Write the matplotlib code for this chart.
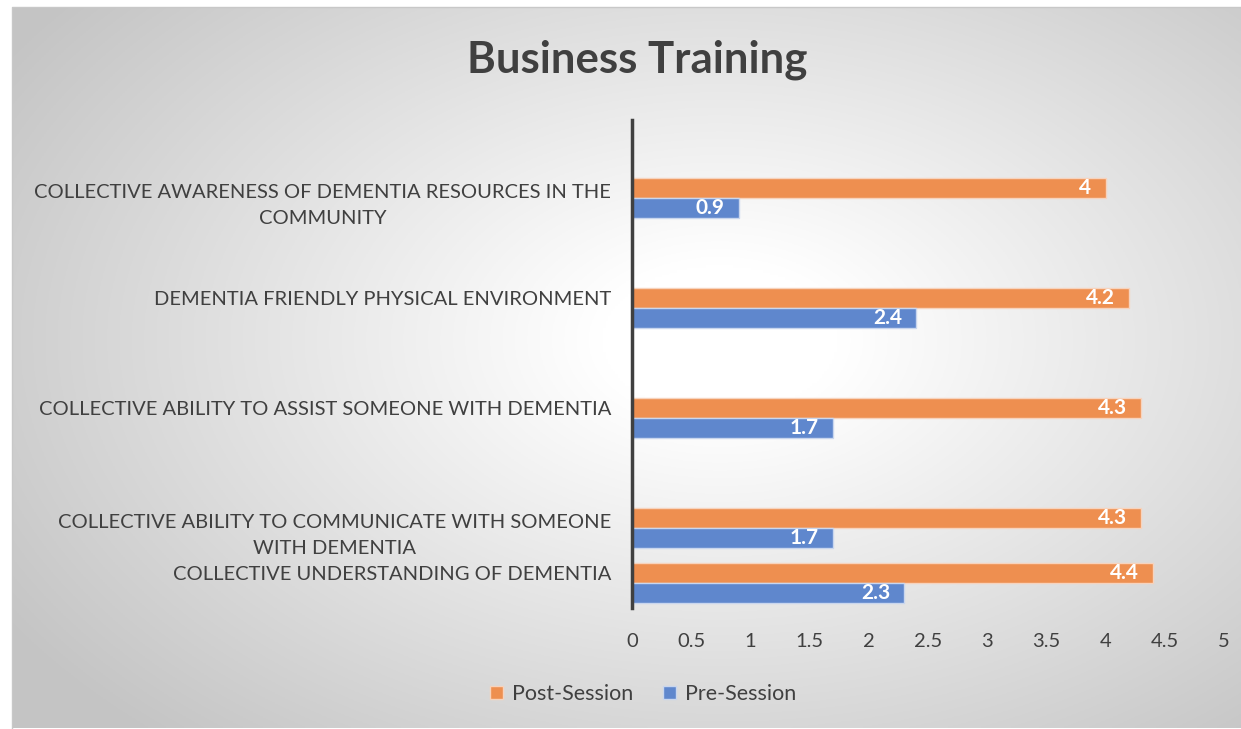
import matplotlib
matplotlib.use("Agg")
import matplotlib.pyplot as plt
import numpy as np

categories = [
    "COLLECTIVE UNDERSTANDING OF DEMENTIA",
    "COLLECTIVE ABILITY TO COMMUNICATE WITH SOMEONE\nWITH DEMENTIA",
    "COLLECTIVE ABILITY TO ASSIST SOMEONE WITH DEMENTIA",
    "DEMENTIA FRIENDLY PHYSICAL ENVIRONMENT",
    "COLLECTIVE AWARENESS OF DEMENTIA RESOURCES IN THE\nCOMMUNITY",
]
post_session = [4.4, 4.3, 4.3, 4.2, 4.0]
pre_session = [2.3, 1.7, 1.7, 2.4, 0.9]
xticks = [0, 0.5, 1, 1.5, 2, 2.5, 3, 3.5, 4, 4.5, 5]
xtick_labels = ["0", "0.5", "1", "1.5", "2", "2.5", "3", "3.5", "4", "4.5", "5"]

# category slot positions (bottom two are packed closer in the original)
slots = np.array([0.0, 0.5, 1.5, 2.5, 3.5])

plt.rcParams['font.family'] = ['Lato', 'DejaVu Sans']

W, H = 1241, 729
fig = plt.figure(figsize=(W / 100, H / 100), dpi=100)
fig.patch.set_facecolor("white")

# background radial gradient in chart frame
x0, x1, y0, y1 = 12, 1241, 7, 728
bg = fig.add_axes([x0 / W, 1 - y1 / H, (x1 - x0) / W, (y1 - y0) / H], zorder=0)
xx, yy = np.meshgrid(np.linspace(x0, x1, 500), np.linspace(y0, y1, 300))
cx, cy = 720, 340
r = np.sqrt(((xx - cx) / 660) ** 2 + ((yy - cy) / 420) ** 2)
t = np.clip((r - 0.18) / 1.1, 0, 1)
val = 1.0 - 0.23 * t
img = np.dstack([val, val, val])
bg.imshow(img, extent=[0, 1, 0, 1], aspect="auto", origin="upper")
bg.set_axis_off()
fig.add_artist(plt.Line2D([x0 / W, x0 / W, 1], [1 - y1 / H, 1 - y0 / H, 1 - y0 / H],
                          transform=fig.transFigure, color="#c8c8c8", lw=1, zorder=1))

ax = fig.add_axes([632 / W, 1 - 608 / H, (1224 - 632) / W, (608 - 120) / H], zorder=2)
ax.patch.set_alpha(0)

bh = 0.18
orange = "#EE8F50"
blue = "#5F87CD"
bars_post = ax.barh(slots + bh / 2, post_session, height=bh, color=orange, edgecolor="#f7d3bd", lw=1, label="Post-Session")
bars_pre = ax.barh(slots - bh / 2, pre_session, height=bh, color=blue, edgecolor="#c9d6ee", lw=1, label="Pre-Session")

for bars, vals in ((bars_post, post_session), (bars_pre, pre_session)):
    for b, v in zip(bars, vals):
        txt = f"{v:g}"
        ax.text(b.get_width() - 0.12, b.get_y() + b.get_height() / 2, txt,
                ha="right", va="center", color="white", fontweight="bold", fontsize=15)

ax.set_xlim(0, 5)
ax.set_ylim(-0.227, 4.21)
ax.set_xticks(xticks)
ax.set_xticklabels(xtick_labels, fontsize=14.5, color="#404040")
# label placement: single-line labels level with the upper bar, two-line labels near the pair centre
nlines = np.array([c.count("\n") + 1 for c in categories])
label_pos = slots + np.where(nlines == 1, bh / 2 - 0.01, -0.065)
ax.set_yticks(label_pos)
ax.set_yticklabels(categories, fontsize=14.5, color="#404040", multialignment="center",
                   linespacing=1.65, va="center")
ax.tick_params(axis="both", length=0)
ax.tick_params(axis="x", pad=18)
ax.tick_params(axis="y", pad=15)
for s in ("top", "right", "bottom"):
    ax.spines[s].set_visible(False)
ax.spines["left"].set_color("#404040")
ax.spines["left"].set_linewidth(2.5)

fig.text(637 / W, 1 - 60 / H, "Business Training", ha="center", va="center",
         fontsize=31.5, fontweight="bold", color="#404040")

handles = [bars_post, bars_pre]
fig.legend(handles, ["Post-Session", "Pre-Session"], loc="center", bbox_to_anchor=(643 / W, 1 - 694 / H),
           ncol=2, frameon=False, fontsize=15.5, handlelength=0.6, handleheight=0.6,
           handletextpad=0.4, columnspacing=1.4, labelcolor="#404040")

fig.savefig("out.png", dpi=100, facecolor="white")
